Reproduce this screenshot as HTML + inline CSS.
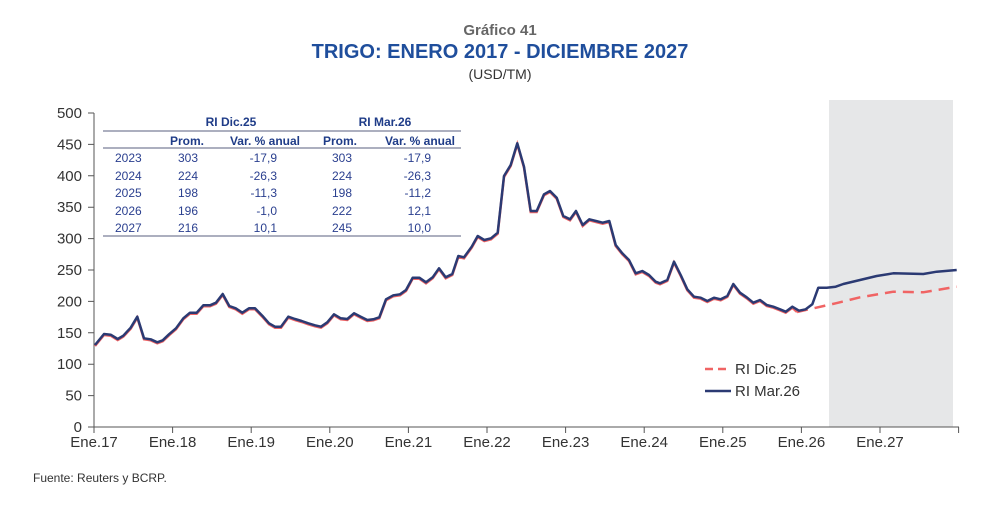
<!DOCTYPE html>
<html><head><meta charset="utf-8"><style>
body{margin:0;background:#fff;}
svg text{font-family:"Liberation Sans",sans-serif;}
</style></head><body>
<svg width="1001" height="508" xmlns="http://www.w3.org/2000/svg">
<rect width="1001" height="508" fill="#fff"/>
<text x="500" y="35" text-anchor="middle" font-size="15" font-weight="bold" fill="#666">Gráfico 41</text>
<text x="500" y="58" text-anchor="middle" font-size="20" font-weight="bold" fill="#1f4e9c">TRIGO: ENERO 2017 - DICIEMBRE 2027</text>
<text x="500" y="79" text-anchor="middle" font-size="14" fill="#333">(USD/TM)</text>
<rect x="829" y="100" width="124" height="327" fill="#e6e7e8"/>
<g stroke="#555" stroke-width="1" fill="none">
<line x1="94" y1="113" x2="94" y2="427"/>
<line x1="94" y1="427" x2="959" y2="427"/>
<path d="M88 427H94M88 395.6H94M88 364.2H94M88 332.8H94M88 301.4H94M88 270H94M88 238.6H94M88 207.2H94M88 175.8H94M88 144.4H94M88 113H94"/>
<path d="M94 427V433M172.6 427V433M251.2 427V433M329.8 427V433M408.4 427V433M487 427V433M565.6 427V433M644.2 427V433M722.8 427V433M801.4 427V433M880 427V433M958.6 427V433"/>
</g>
<g font-size="15" fill="#333" text-anchor="end">
<text x="82" y="432">0</text><text x="82" y="400.6">50</text><text x="82" y="369.2">100</text><text x="82" y="337.8">150</text><text x="82" y="306.4">200</text><text x="82" y="275">250</text><text x="82" y="243.6">300</text><text x="82" y="212.2">350</text><text x="82" y="180.8">400</text><text x="82" y="149.4">450</text><text x="82" y="118">500</text>
</g>
<g font-size="15" fill="#333" text-anchor="middle">
<text x="94" y="447">Ene.17</text><text x="172.6" y="447">Ene.18</text><text x="251.2" y="447">Ene.19</text><text x="329.8" y="447">Ene.20</text><text x="408.4" y="447">Ene.21</text><text x="487" y="447">Ene.22</text><text x="565.6" y="447">Ene.23</text><text x="644.2" y="447">Ene.24</text><text x="722.8" y="447">Ene.25</text><text x="801.4" y="447">Ene.26</text><text x="880" y="447">Ene.27</text>
</g>
<!-- table -->
<g stroke="#7a7f99" stroke-width="1.2"><line x1="103" y1="131" x2="461" y2="131"/><line x1="103" y1="148" x2="461" y2="148"/><line x1="103" y1="236" x2="461" y2="236"/></g>
<g font-size="12" font-weight="bold" fill="#1f3c88" text-anchor="middle"><text x="231" y="126">RI Dic.25</text><text x="385" y="126">RI Mar.26</text></g>
<g font-size="12" font-weight="bold" fill="#1f3c88" text-anchor="end"><text x="204" y="145">Prom.</text><text x="300" y="145">Var. % anual</text><text x="357" y="145">Prom.</text><text x="455" y="145">Var. % anual</text></g>
<g font-size="12" fill="#2a3f8f">
<g text-anchor="start"><text x="115" y="162">2023</text><text x="115" y="180">2024</text><text x="115" y="197">2025</text><text x="115" y="215">2026</text><text x="115" y="232">2027</text></g>
<g text-anchor="end">
<text x="198" y="162">303</text><text x="277" y="162">-17,9</text><text x="352" y="162">303</text><text x="431" y="162">-17,9</text>
<text x="198" y="180">224</text><text x="277" y="180">-26,3</text><text x="352" y="180">224</text><text x="431" y="180">-26,3</text>
<text x="198" y="197">198</text><text x="277" y="197">-11,3</text><text x="352" y="197">198</text><text x="431" y="197">-11,2</text>
<text x="198" y="215">196</text><text x="277" y="215">-1,0</text><text x="352" y="215">222</text><text x="431" y="215">12,1</text>
<text x="198" y="232">216</text><text x="277" y="232">10,1</text><text x="352" y="232">245</text><text x="431" y="232">10,0</text>
</g></g>
<!-- series -->
<polyline fill="none" stroke="#f06464" stroke-width="2.5" transform="translate(0,1)" points="95,345 104,334 110.7,334.7 117.7,339 123.3,335.7 130.7,327.7 137.3,316.7 144,338.3 150.7,339.3 157.3,342.3 162.7,340.3 169,334.3 176,328.3 183.3,318.3 190,312.7 196.7,312.7 203.3,305.3 210,305.3 216,302.7 222.7,294 229.3,306 235.7,308.3 242.3,312.7 249,308.3 255,308.3 262.3,315.7 269,323.3 275,326.7 281,326.7 288.3,316.7 295,319 301.7,321 308.3,323.3 315,325.3 321,326.7 327.3,322.3 334,314.3 340.7,318.3 347.3,319 354,313.3 360.7,316.7 367.3,320 373.3,319.3 379.3,317.3 386,299.3 393.3,295.3 400,294.3 406,290 412.7,277.7 419.3,277.7 426,282.3 432.7,277.3 439,268.3 445.7,277.3 452.3,274 458.3,256 464,257.3 471.7,246.7 477.7,236 484.3,240 491,238.3 497.7,232.7 504,176 510.7,165 517.3,143.3 524,166.7 530.7,211 536.7,211 544,194.3 550,191 556.7,197.7 563.3,216 570,219.3 576,211 582.7,225 589.3,219.3 596,221 602.7,222.7 609.3,221 615.7,245 622.3,253.3 629,260 635.7,273.3 642.3,271 649,275 655.7,281.7 660,283.3 667.3,280 674,261.7 680.7,275 687.3,289.3 694,296.7 700.7,297.7 707.3,301 714,297.7 720.7,299.3 727.3,296 733.3,284 740,292.7 746.7,297.3 753.3,302.7 760,300 766.7,305 773.3,306.7 780,309.3 785.7,311.7 792.3,306.7 797,311"/>
<polyline fill="none" stroke="#f06464" stroke-width="2.5" stroke-dasharray="11,7" points="797,312 835.7,303.3 860,297.3 893.3,291.7 923.3,292.3 956.7,286.7"/>
<polyline fill="none" stroke="#2b3a73" stroke-width="2.5" stroke-linejoin="round" points="95,345 104,334 110.7,334.7 117.7,339 123.3,335.7 130.7,327.7 137.3,316.7 144,338.3 150.7,339.3 157.3,342.3 162.7,340.3 169,334.3 176,328.3 183.3,318.3 190,312.7 196.7,312.7 203.3,305.3 210,305.3 216,302.7 222.7,294 229.3,306 235.7,308.3 242.3,312.7 249,308.3 255,308.3 262.3,315.7 269,323.3 275,326.7 281,326.7 288.3,316.7 295,319 301.7,321 308.3,323.3 315,325.3 321,326.7 327.3,322.3 334,314.3 340.7,318.3 347.3,319 354,313.3 360.7,316.7 367.3,320 373.3,319.3 379.3,317.3 386,299.3 393.3,295.3 400,294.3 406,290 412.7,277.7 419.3,277.7 426,282.3 432.7,277.3 439,268.3 445.7,277.3 452.3,274 458.3,256 464,257.3 471.7,246.7 477.7,236 484.3,240 491,238.3 497.7,232.7 504,176 510.7,165 517.3,143.3 524,166.7 530.7,211 536.7,211 544,194.3 550,191 556.7,197.7 563.3,216 570,219.3 576,211 582.7,225 589.3,219.3 596,221 602.7,222.7 609.3,221 615.7,245 622.3,253.3 629,260 635.7,273.3 642.3,271 649,275 655.7,281.7 660,283.3 667.3,280 674,261.7 680.7,275 687.3,289.3 694,296.7 700.7,297.7 707.3,301 714,297.7 720.7,299.3 727.3,296 733.3,284 740,292.7 746.7,297.3 753.3,302.7 760,300 766.7,305 773.3,306.7 780,309.3 785.7,311.7 792.3,306.7 799,310.7 805.7,309.3 812.3,304.3 818.3,287.7 826.7,287.7 835.7,286.7 843.3,284 860,280 876.7,276 893.3,273.3 923.3,274 936.7,271.7 956.7,270"/>
<line x1="705" y1="369" x2="731" y2="369" stroke="#f06464" stroke-width="2.5" stroke-dasharray="8,5"/>
<line x1="705" y1="391" x2="731" y2="391" stroke="#2b3a73" stroke-width="2.5"/>
<text x="735" y="374" font-size="15" fill="#333">RI Dic.25</text>
<text x="735" y="396" font-size="15" fill="#333">RI Mar.26</text>
<text x="33" y="482" font-size="12" fill="#333">Fuente: Reuters y BCRP.</text>
</svg>
</body></html>
